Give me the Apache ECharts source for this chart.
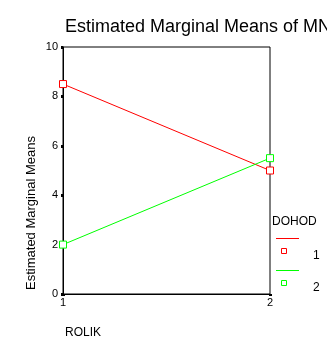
<!DOCTYPE html>
<html><head><meta charset="utf-8">
<script src="https://cdn.jsdelivr.net/npm/echarts@6/dist/echarts.min.js"></script>
<style>html,body{margin:0;padding:0;background:#fff;overflow:hidden}#c{width:327px;height:361px}</style>
</head><body><div id="c"></div>
<script>
const categories = ['1', '2'];
const dohod1 = [8.5, 5.0];
const dohod2 = [2.0, 5.5];
const yTicks = [0, 2, 4, 6, 8, 10];
const legendTitle = 'DOHOD';
const seriesNames = ['1', '2'];
const colors = ['#ff0000', '#00ff00'];

const chart = echarts.init(document.getElementById('c'), null, {renderer: 'canvas'});
const font = 'Arial, "Liberation Sans", sans-serif';
function mkSeries(name, data, color) {
  return {
    name, type: 'line', data, symbol: 'rect', symbolSize: 7,
    lineStyle: {color, width: 1},
    itemStyle: {color: '#fff', borderColor: color, borderWidth: 1},
    emphasis: {disabled: true}, animation: false
  };
}
chart.setOption({
  animation: false,
  backgroundColor: '#fff',
  title: {text: 'Estimated Marginal Means of MNOZSTVI', left: 60, top: 13,
    textStyle: {fontFamily: font, fontSize: 18, fontWeight: 'normal', color: '#000'}},
  grid: {left: 63, top: 47, width: 207, height: 247, show: true, borderColor: '#000', borderWidth: 1, backgroundColor: 'transparent'},
  xAxis: {type: 'category', data: categories, boundaryGap: false,
    axisLine: {lineStyle: {color: '#000', width: 1}},
    axisTick: {show: true, length: 2, lineStyle: {color: '#000', width: 3}},
    axisLabel: {color: '#000', fontFamily: font, fontSize: 11, margin: 3},
    splitLine: {show: false}},
  yAxis: {type: 'value', min: yTicks[0], max: yTicks[yTicks.length-1], interval: 2,
    axisLine: {show: true, lineStyle: {color: '#000', width: 1}},
    axisTick: {show: true, length: 2, lineStyle: {color: '#000', width: 3}},
    axisLabel: {color: '#000', fontFamily: font, fontSize: 11, margin: 5},
    splitLine: {show: false}},
  series: [mkSeries(seriesNames[0], dohod1, colors[0]), mkSeries(seriesNames[1], dohod2, colors[1])],
  graphic: [
    {type: 'text', x: 31, y: 213, rotation: Math.PI/2, style: {text: 'Estimated Marginal Means', fill: '#000', font: '13px ' + font, textAlign: 'center', textVerticalAlign: 'middle'}},
    {type: 'text', x: 65, y: 333, style: {text: 'ROLIK', fill: '#000', font: '12px ' + font, textVerticalAlign: 'middle'}},
    {type: 'text', x: 272, y: 222, style: {text: legendTitle, fill: '#000', font: '12px ' + font, textVerticalAlign: 'middle'}},
    {type: 'line', shape: {x1: 276, y1: 238.5, x2: 299, y2: 238.5}, style: {stroke: colors[0], lineWidth: 1}},
    {type: 'rect', shape: {x: 281.5, y: 248.5, width: 5, height: 5}, style: {fill: '#fff', stroke: colors[0], lineWidth: 1}},
    {type: 'text', x: 313, y: 256, style: {text: seriesNames[0], fill: '#000', font: '12px ' + font, textVerticalAlign: 'middle'}},
    {type: 'line', shape: {x1: 276, y1: 270.5, x2: 299, y2: 270.5}, style: {stroke: colors[1], lineWidth: 1}},
    {type: 'rect', shape: {x: 281.5, y: 280.5, width: 5, height: 5}, style: {fill: '#fff', stroke: colors[1], lineWidth: 1}},
    {type: 'text', x: 313, y: 288, style: {text: seriesNames[1], fill: '#000', font: '12px ' + font, textVerticalAlign: 'middle'}}
  ]
});
</script></body></html>
